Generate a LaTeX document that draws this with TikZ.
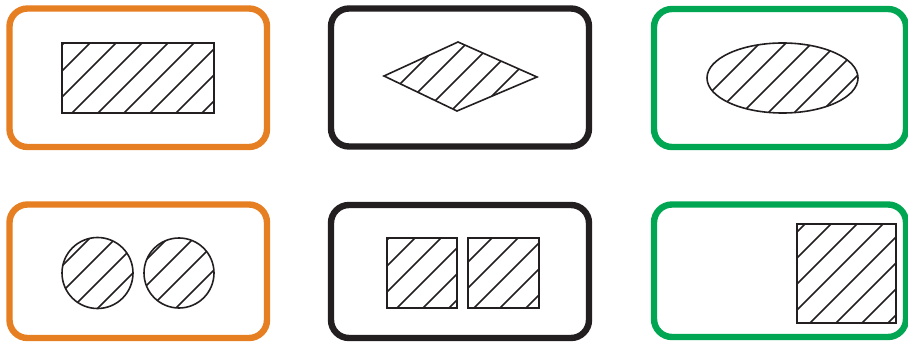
\documentclass[tikz,border=0pt]{standalone}
\usepackage{xcolor}
\usepackage{tikz}

\definecolor{frameorange}{RGB}{230,126,34}
\definecolor{frameblack}{RGB}{35,31,32}
\definecolor{framegreen}{RGB}{0,166,81}

\begin{document}
\begin{tikzpicture}[
    x=1pt, y=-1pt,
    frame/.style={line width=6.4pt, rounded corners=18pt},
    outline/.style={draw=frameblack, line width=1.6pt},
    hatched/.style={path picture={
        \foreach \k in {-40,...,40}
            \draw[frameblack, line width=1.6pt] (#1+\k*26,0) -- ++(-400,400);
    }}
]
    \useasboundingbox (0,0) rectangle (908,342);

    % frames
    \draw[frame, frameorange] (9.5,8.5) rectangle (267,147);
    \draw[frame, frameblack]  (331,8.5) rectangle (589,146.5);
    \draw[frame, framegreen]  (654,9)   rectangle (906,147);
    \draw[frame, frameorange] (9.5,204.5) rectangle (267,338);
    \draw[frame, frameblack]  (331,205)   rectangle (589,338);
    \draw[frame, framegreen]  (654,204.5) rectangle (906,337);

    % top row
    \draw[outline, hatched=133] (62,43) rectangle (214,113);
    \draw[outline, hatched=510] (384,76) -- (458,42) -- (537,77) -- (457,111) -- cycle;
    \draw[outline, hatched=803] (782.5,78) ellipse [x radius=75.5, y radius=35];

    % bottom row
    \draw[outline, hatched=328] (97.5,273) circle [radius=35.5];
    \draw[outline, hatched=432] (179,273) circle [radius=35];
    \draw[outline, hatched=653] (387,238) rectangle (457,308);
    \draw[outline, hatched=730] (468,238) rectangle (539,308);
    \draw[outline, hatched=1081] (797,224) rectangle (896,323);
\end{tikzpicture}
\end{document}
